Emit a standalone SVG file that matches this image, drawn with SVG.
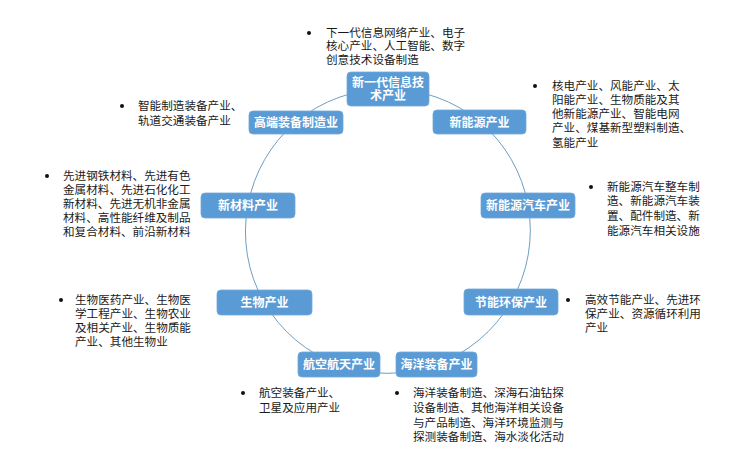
<svg xmlns="http://www.w3.org/2000/svg" width="742" height="466" viewBox="0 0 742 466">
<style>
.box{fill:#5b9bd5;stroke:#6fa8dc;stroke-width:0.8}
.nt{font-family:"Liberation Sans","Noto Sans CJK SC",sans-serif;font-size:12px;font-weight:bold;fill:#ffffff;text-anchor:middle}
.lt{font-family:"Liberation Sans","Noto Sans CJK SC",sans-serif;font-size:11.6px;fill:#1a1a1a}
.bul{fill:#111111}
.conn{fill:none;stroke:#6f9fc0;stroke-width:1}
</style>
<rect width="742" height="466" fill="#ffffff"/>
<g id="connectors">
<path class="conn" d="M388,89 A142,142 0 0 1 480,122"/>
<path class="conn" d="M480,122 A142,142 0 0 1 528,205"/>
<path class="conn" d="M528,205 A142,142 0 0 1 511,302"/>
<path class="conn" d="M511,302 A142,142 0 0 1 436,364.6"/>
<path class="conn" d="M436,364.6 A142,142 0 0 1 338,364.6"/>
<path class="conn" d="M338,364.6 A142,142 0 0 1 264,302"/>
<path class="conn" d="M264,302 A142,142 0 0 1 248,205"/>
<path class="conn" d="M248,205 A142,142 0 0 1 296,122"/>
<path class="conn" d="M296,122 A142,142 0 0 1 388,89"/>
</g>
<g id="node-xinyidai">
<rect class="box" x="347" y="72" width="82" height="34" rx="4"/>
<text class="nt" x="388" y="86.5">新一代信息技</text>
<text class="nt" x="388" y="100">术产业</text>
</g>
<g id="node-gaoduan">
<rect class="box" x="249" y="111" width="94" height="23" rx="4"/>
<text class="nt" x="296" y="126.5">高端装备制造业</text>
</g>
<g id="node-xinnengyuan">
<rect class="box" x="433" y="110" width="93" height="24" rx="4"/>
<text class="nt" x="479.5" y="126.5">新能源产业</text>
</g>
<g id="node-xincailiao">
<rect class="box" x="201" y="193" width="94" height="25" rx="4"/>
<text class="nt" x="248" y="210">新材料产业</text>
</g>
<g id="node-qiche">
<rect class="box" x="481" y="193" width="94" height="25" rx="4"/>
<text class="nt" x="528" y="210">新能源汽车产业</text>
</g>
<g id="node-shengwu">
<rect class="box" x="217" y="290" width="95" height="25" rx="4"/>
<text class="nt" x="264.5" y="307">生物产业</text>
</g>
<g id="node-jieneng">
<rect class="box" x="464" y="289" width="94" height="26" rx="4"/>
<text class="nt" x="511" y="306.5">节能环保产业</text>
</g>
<g id="node-hangkong">
<rect class="box" x="298" y="352" width="82" height="25" rx="4"/>
<text class="nt" x="339" y="369">航空航天产业</text>
</g>
<g id="node-haiyang">
<rect class="box" x="396" y="352" width="81" height="25" rx="4"/>
<text class="nt" x="436.5" y="369">海洋装备产业</text>
</g>
<g id="list-xinyidai">
<circle class="bul" cx="309" cy="33" r="2"/>
<text class="lt" x="326" y="36.5"><tspan x="326">下一代信息网络产业、电子</tspan><tspan x="326" dy="13.8">核心产业、人工智能、数字</tspan><tspan x="326" dy="13.8">创意技术设备制造</tspan></text>
</g>
<g id="list-gaoduan">
<circle class="bul" cx="122" cy="106" r="2"/>
<text class="lt" x="138" y="109.5"><tspan x="138">智能制造装备产业、</tspan><tspan x="138" dy="15">轨道交通装备产业</tspan></text>
</g>
<g id="list-xinnengyuan">
<circle class="bul" cx="535" cy="86" r="2"/>
<text class="lt" x="552" y="89.5"><tspan x="552">核电产业、风能产业、太</tspan><tspan x="552" dy="14.3">阳能产业、生物质能及其</tspan><tspan x="552" dy="14.3">他新能源产业、智能电网</tspan><tspan x="552" dy="14.3">产业、煤基新型塑料制造、</tspan><tspan x="552" dy="14.3">氢能产业</tspan></text>
</g>
<g id="list-xincailiao">
<circle class="bul" cx="47" cy="176" r="2"/>
<text class="lt" x="63" y="179.5"><tspan x="63">先进钢铁材料、先进有色</tspan><tspan x="63" dy="14">金属材料、先进石化化工</tspan><tspan x="63" dy="14">新材料、先进无机非金属</tspan><tspan x="63" dy="14">材料、高性能纤维及制品</tspan><tspan x="63" dy="14">和复合材料、前沿新材料</tspan></text>
</g>
<g id="list-qiche">
<circle class="bul" cx="591" cy="187" r="2"/>
<text class="lt" x="607" y="190.5"><tspan x="607">新能源汽车整车制</tspan><tspan x="607" dy="14.8">造、新能源汽车装</tspan><tspan x="607" dy="14.8">置、配件制造、新</tspan><tspan x="607" dy="14.8">能源汽车相关设施</tspan></text>
</g>
<g id="list-shengwu">
<circle class="bul" cx="61" cy="300" r="2"/>
<text class="lt" x="75" y="304"><tspan x="75">生物医药产业、生物医</tspan><tspan x="75" dy="14">学工程产业、生物农业</tspan><tspan x="75" dy="14">及相关产业、生物质能</tspan><tspan x="75" dy="14">产业、其他生物业</tspan></text>
</g>
<g id="list-jieneng">
<circle class="bul" cx="568" cy="300" r="2"/>
<text class="lt" x="585" y="304"><tspan x="585">高效节能产业、先进环</tspan><tspan x="585" dy="14">保产业、资源循环利用</tspan><tspan x="585" dy="14">产业</tspan></text>
</g>
<g id="list-hangkong">
<circle class="bul" cx="243" cy="393" r="2"/>
<text class="lt" x="259" y="397"><tspan x="259">航空装备产业、</tspan><tspan x="259" dy="15">卫星及应用产业</tspan></text>
</g>
<g id="list-haiyang">
<circle class="bul" cx="397" cy="393" r="2"/>
<text class="lt" x="413" y="397"><tspan x="413">海洋装备制造、深海石油钻探</tspan><tspan x="413" dy="14.8">设备制造、其他海洋相关设备</tspan><tspan x="413" dy="14.8">与产品制造、海洋环境监测与</tspan><tspan x="413" dy="14.8">探测装备制造、海水淡化活动</tspan></text>
</g>
</svg>
